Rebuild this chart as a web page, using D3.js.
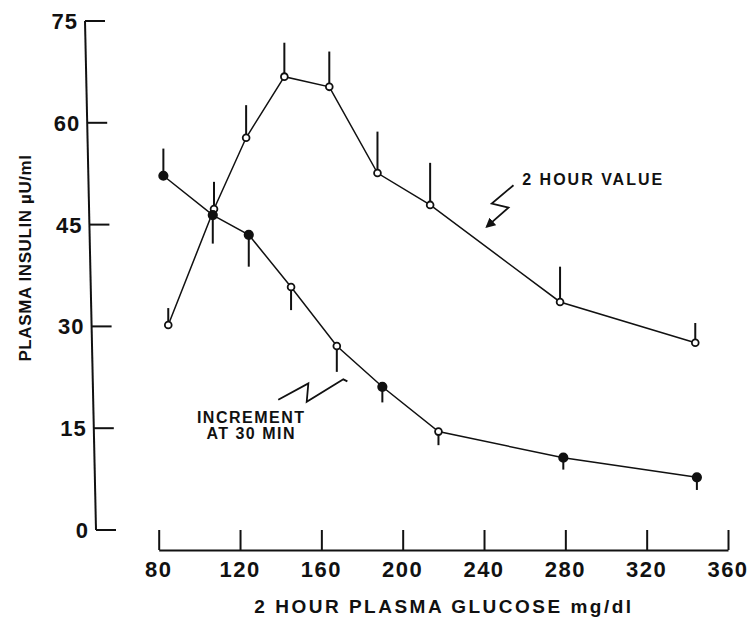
<!DOCTYPE html>
<html>
<head>
<meta charset="utf-8">
<script src="https://cdn.jsdelivr.net/npm/d3@7"></script>
<style>
  html, body { margin: 0; padding: 0; background: #fff; }
  svg { display: block; }
  text { font-family: "Liberation Sans", Arial, Helvetica, sans-serif; fill: #111; }
</style>
</head>
<body>
<svg id="chart" width="754" height="619"></svg>
<script>
// ---- data ----
const xTicks = [80, 120, 160, 200, 240, 280, 320, 360];
const yTicks = [0, 15, 30, 45, 60, 75];

// 2 hour value (open circles, error bars upward)
const twoHourX   = [84.7, 107.2, 123.0, 141.8, 163.9, 187.6, 213.5, 277.4, 343.9];
const twoHourY   = [30.2, 47.3, 57.8, 66.8, 65.3, 52.6, 47.9, 33.6, 27.6];
const twoHourErr = [32.7, 51.3, 62.6, 71.8, 70.5, 58.7, 54.1, 38.8, 30.5];

// increment at 30 min
const incX      = [82.3, 106.6, 124.3, 145.1, 167.6, 190.0, 217.6, 279.0, 344.7];
const incY      = [52.2, 46.4, 43.5, 35.8, 27.1, 21.1, 14.5, 10.65, 7.76];
const incErr    = [56.2, 42.2, 38.8, 32.4, 23.3, 18.8, 12.5, 8.9, 5.9];
const incFilled = [true, true, true, false, false, true, false, true, true];

// annotation paths (data units)
const twoHourArrow = [[254.5, 50.8], [243.8, 48.1], [252.0, 47.5], [241.4, 44.7]];
const incArrow = [[138.8, 19.2], [153.6, 21.6], [152.8, 18.9], [170.8, 22.2], [172.8, 21.9]];

// ---- chart ----
const svg = d3.select("#chart");
const x = d3.scaleLinear().domain([80, 360]).range([158.7, 728]);
const y = d3.scaleLinear().domain([0, 75]).range([530, 21]);

// slanted y axis (as in the scanned figure)
const axX = v => 85 + (y(v) - y(75)) / (y(0) - y(75)) * 11;

const gy = svg.append("g").attr("class", "y-axis");
gy.append("path")
  .attr("d", d3.line()([[axX(75), y(75)], [axX(0), y(0)]]))
  .attr("stroke", "#111").attr("stroke-width", 2).attr("fill", "none");
yTicks.forEach(t => {
  gy.append("line")
    .attr("x1", axX(t)).attr("x2", axX(t) + 20)
    .attr("y1", y(t)).attr("y2", y(t))
    .attr("stroke", "#111").attr("stroke-width", 2);
  gy.append("text")
    .attr("x", axX(t) - 7).attr("y", y(t) + 8)
    .attr("text-anchor", "end")
    .attr("font-size", 22).attr("font-weight", "bold").attr("letter-spacing", 1)
    .text(t);
});

// x axis
const gx = svg.append("g")
  .attr("transform", `translate(0,550)`)
  .call(d3.axisTop(x).tickValues(xTicks).tickSize(20).tickSizeOuter(0).tickFormat(""));
gx.select(".domain").attr("stroke", "#111").attr("stroke-width", 2);
gx.selectAll(".tick line").attr("stroke", "#111").attr("stroke-width", 2);
xTicks.forEach(t => {
  svg.append("text")
    .attr("x", x(t)).attr("y", 577)
    .attr("text-anchor", "middle")
    .attr("font-size", 22).attr("font-weight", "bold").attr("letter-spacing", 1.5)
    .text(t);
});

// axis titles
svg.append("text")
  .attr("transform", `translate(31,258) rotate(-90)`)
  .attr("text-anchor", "middle")
  .attr("font-size", 17).attr("font-weight", "bold").attr("letter-spacing", 0.6)
  .text("PLASMA INSULIN µU/ml");
svg.append("text")
  .attr("x", 444).attr("y", 613)
  .attr("text-anchor", "middle")
  .attr("font-size", 19).attr("font-weight", "bold").attr("letter-spacing", 2.5)
  .text("2 HOUR PLASMA GLUCOSE mg/dl");

const line = d3.line().x(d => x(d[0])).y(d => y(d[1]));

function series(xs, ys, errs, filled) {
  const pts = xs.map((v, i) => [v, ys[i]]);
  const g = svg.append("g");
  g.selectAll("line.err").data(pts).join("line")
    .attr("class", "err")
    .attr("x1", d => x(d[0])).attr("x2", d => x(d[0]))
    .attr("y1", d => y(d[1])).attr("y2", (d, i) => y(errs[i]))
    .attr("stroke", "#111").attr("stroke-width", 2);
  g.append("path").datum(pts)
    .attr("d", line).attr("fill", "none")
    .attr("stroke", "#111").attr("stroke-width", 1.5);
  g.selectAll("circle").data(pts).join("circle")
    .attr("cx", d => x(d[0])).attr("cy", d => y(d[1]))
    .attr("r", (d, i) => filled[i] ? 4.2 : 3.4)
    .attr("fill", (d, i) => filled[i] ? "#111" : "#fff")
    .attr("stroke", "#111").attr("stroke-width", 1.8);
}

series(twoHourX, twoHourY, twoHourErr, twoHourX.map(() => false));
series(incX, incY, incErr, incFilled);

// annotations
svg.append("defs").append("marker")
  .attr("id", "ah").attr("viewBox", "0 0 10 10")
  .attr("refX", 8).attr("refY", 5)
  .attr("markerWidth", 10).attr("markerHeight", 10)
  .attr("markerUnits", "userSpaceOnUse")
  .attr("orient", "auto")
  .append("path").attr("d", "M0,0 L10,5 L0,10 Z").attr("fill", "#111");

svg.append("path").attr("d", line(twoHourArrow))
  .attr("fill", "none").attr("stroke", "#111").attr("stroke-width", 1.8)
  .attr("marker-end", "url(#ah)");
svg.append("text")
  .attr("x", x(258.8)).attr("y", y(50.8))
  .attr("font-size", 16).attr("font-weight", "bold").attr("letter-spacing", 2)
  .text("2 HOUR VALUE");

svg.append("path").attr("d", line(incArrow))
  .attr("fill", "none").attr("stroke", "#111").attr("stroke-width", 1.8);
svg.append("text")
  .attr("x", x(125.5)).attr("y", y(15.8))
  .attr("text-anchor", "middle")
  .attr("font-size", 16).attr("font-weight", "bold").attr("letter-spacing", 1.5)
  .text("INCREMENT");
svg.append("text")
  .attr("x", x(125.5)).attr("y", y(13.4))
  .attr("text-anchor", "middle")
  .attr("font-size", 16).attr("font-weight", "bold").attr("letter-spacing", 1.5)
  .text("AT 30 MIN");
</script>
</body>
</html>
